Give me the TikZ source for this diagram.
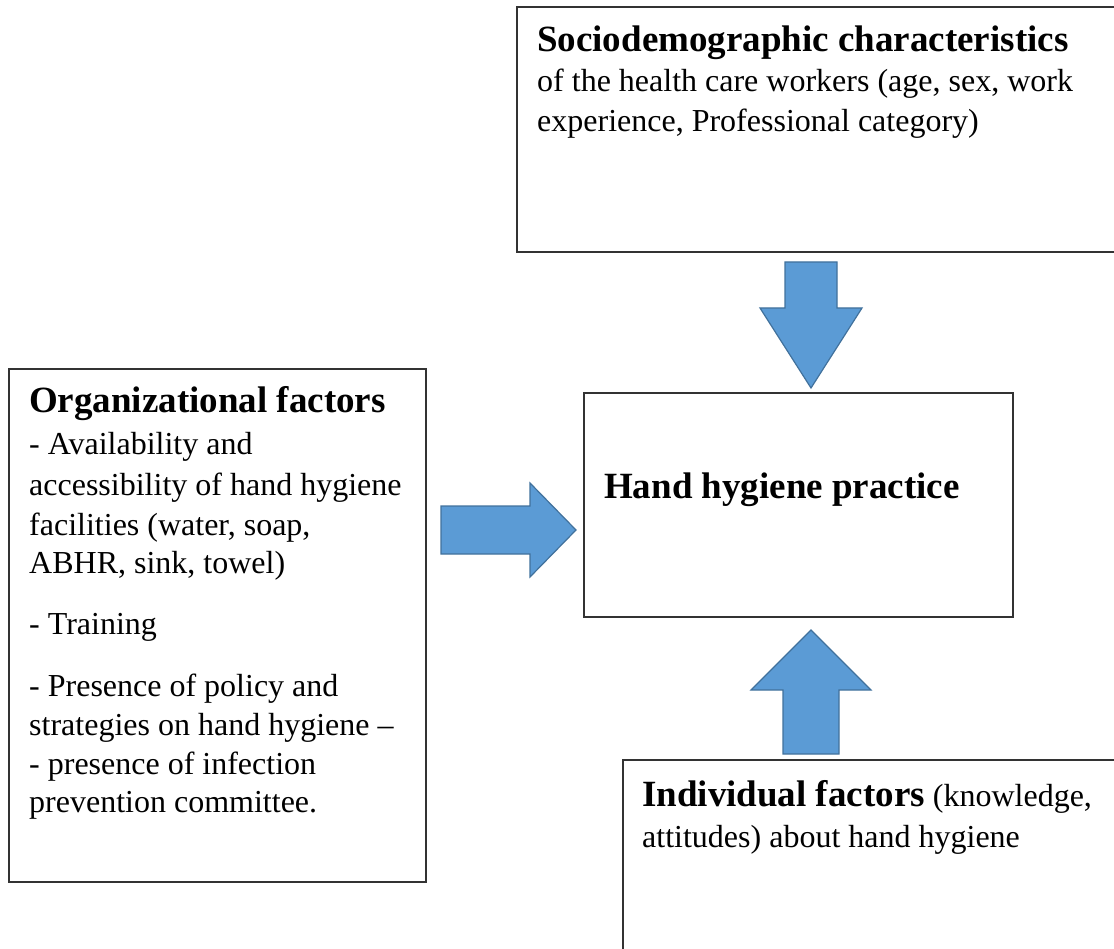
\documentclass[tikz,border=0pt]{standalone}
\usepackage{fontspec}
\setmainfont{Liberation Serif}
\usetikzlibrary{calc}
\definecolor{arrowfill}{HTML}{5B9BD5}
\definecolor{arrowline}{HTML}{41719C}
\definecolor{boxline}{HTML}{333333}
\begin{document}
\begin{tikzpicture}[x=1pt,y=-1pt,
  box/.style={draw=boxline,line width=1.3pt,fill=white},
  blockarrow/.style={fill=arrowfill,draw=arrowline,line width=1.2pt,line join=miter},
  body/.style={anchor=base west,inner sep=0pt,font=\fontsize{32}{38}\selectfont},
  head/.style={anchor=base west,inner sep=0pt,font=\fontsize{37}{44}\selectfont\bfseries}]
\useasboundingbox (0,0) rectangle (1114,949);
\clip (0,0) rectangle (1114,949);
% boxes
\draw[box] (517,7) rectangle (1130,252);
\draw[box] (9,369) rectangle (426,882);
\draw[box] (584,393) rectangle (1013,617);
\draw[box] (623,760) rectangle (1130,960);
\coordinate (socio) at (811,252);
\coordinate (hhtop) at (811,393);
\coordinate (hhleft) at (584,530);
\coordinate (hhbot) at (811,617);
\coordinate (orgright) at (426,530);
\coordinate (indtop) at (811,760);
% down arrow
\draw[blockarrow] ($(socio)+(-26,10)$) -- ($(socio)+(26,10)$) -- ($(socio)+(26,56)$)
  -- ($(socio)+(51,56)$) -- ($(hhtop)+(0,-5)$) -- ($(socio)+(-51,56)$)
  -- ($(socio)+(-26,56)$) -- cycle;
% right arrow
\draw[blockarrow] ($(orgright)+(15,-24)$) -- ($(orgright)+(104,-24)$) -- ($(orgright)+(104,-47)$)
  -- ($(hhleft)+(-8,0)$) -- ($(orgright)+(104,47)$) -- ($(orgright)+(104,24)$)
  -- ($(orgright)+(15,24)$) -- cycle;
% up arrow
\draw[blockarrow] ($(indtop)+(-28,-6)$) -- ($(indtop)+(28,-6)$) -- ($(indtop)+(28,-70)$)
  -- ($(indtop)+(60,-70)$) -- ($(hhbot)+(0,13)$) -- ($(indtop)+(-60,-70)$)
  -- ($(indtop)+(-28,-70)$) -- cycle;
% top box text
\node[head] (s1) at (537,52) {Sociodemographic characteristics};
\node[body] (s2) at (537,92) {of the health care workers (age, sex, work};
\node[body] (s3) at (537,132) {experience, Professional category)};
% left box text
\node[head] (o0) at (29,413) {Organizational factors};
\node[body] (o1) at (29,454) {- Availability and};
\node[body] (o2) at (29,495) {accessibility of hand hygiene};
\node[body] (o3) at (29,535) {facilities (water, soap,};
\node[body] (o4) at (29,573) {ABHR, sink, towel)};
\node[body] (o5) at (29,634) {- Training};
\node[body] (o6) at (29,696) {- Presence of policy and};
\node[body] (o7) at (29,735) {strategies on hand hygiene –};
\node[body] (o8) at (29,774) {- presence of infection};
\node[body] (o9) at (29,812) {prevention committee.};
% center
\node[head] (hh) at (604,498) {Hand hygiene practice};
% bottom
\node[body] (i1) at (642,806) {\fontsize{37}{44}\selectfont\bfseries Individual factors\fontsize{32}{38}\mdseries\selectfont{} (knowledge,};
\node[body] (i2) at (642,847) {attitudes) about hand hygiene};
\end{tikzpicture}
\end{document}
